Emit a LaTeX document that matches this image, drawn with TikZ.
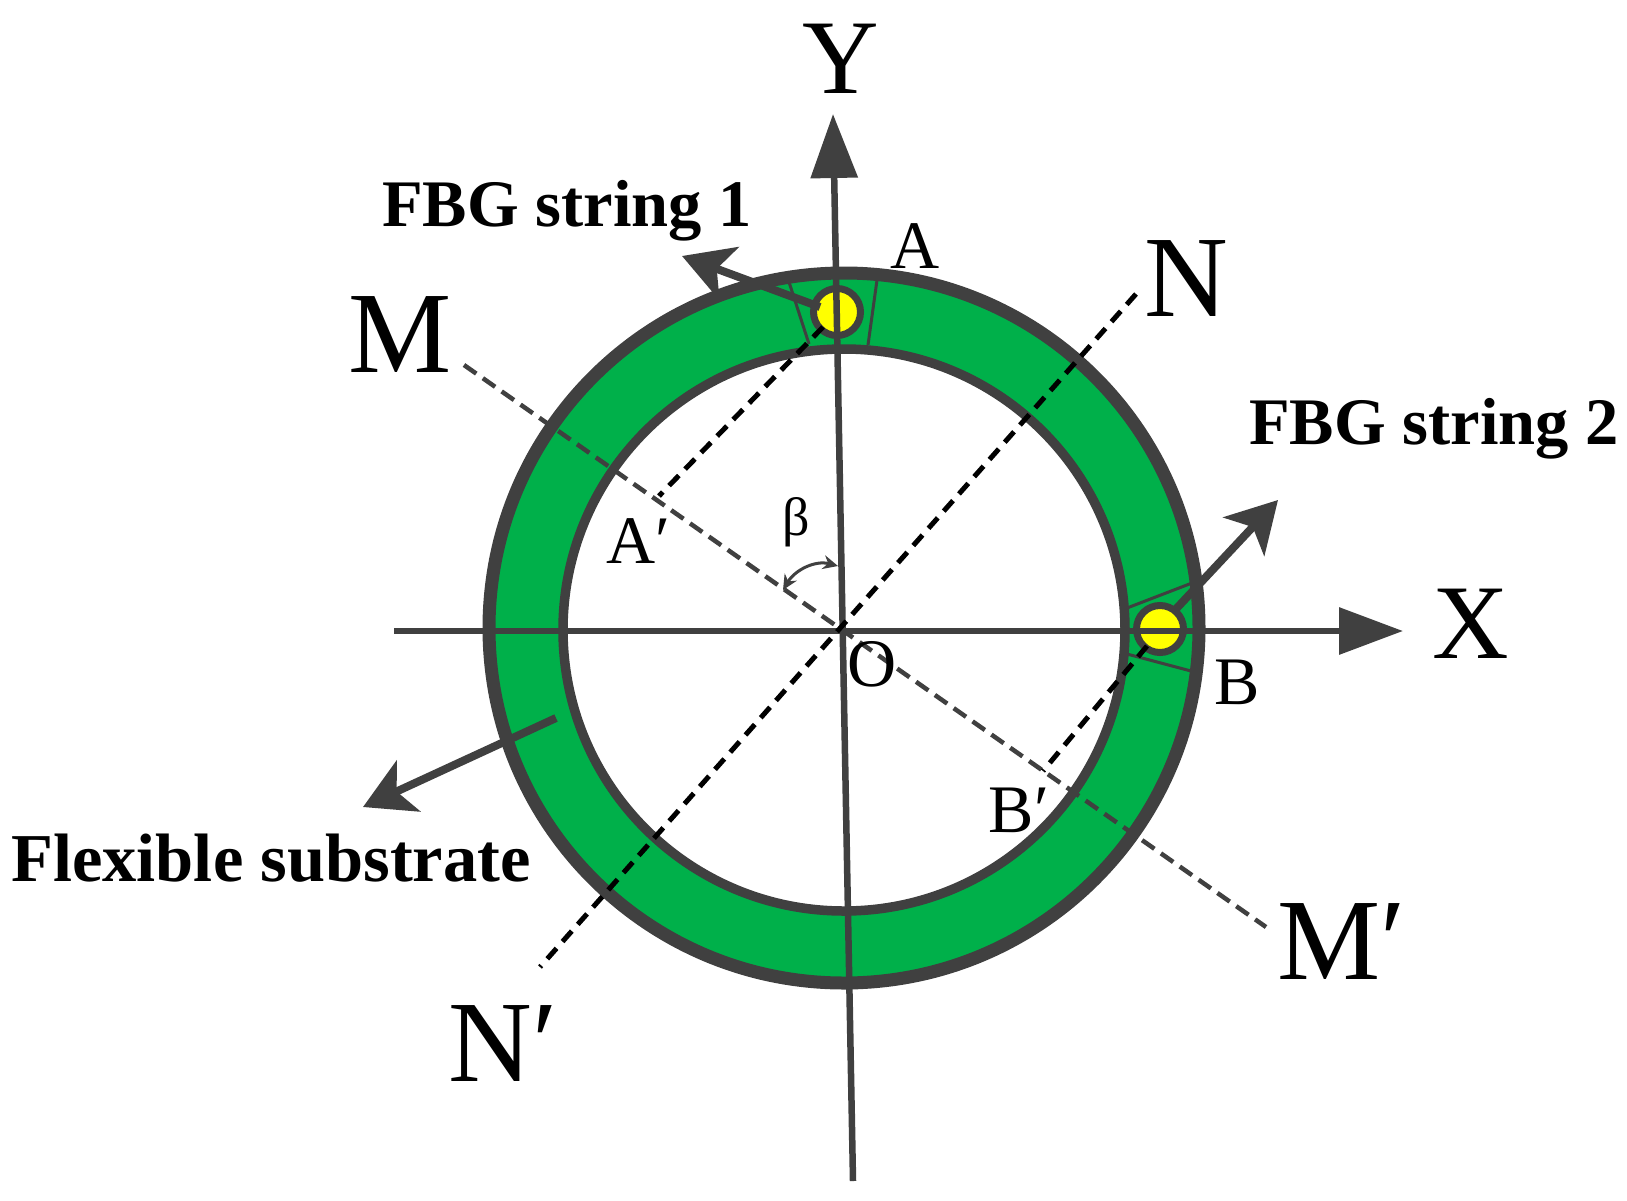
\documentclass[tikz,border=0pt]{standalone}
\usepackage{fontspec}
\setmainfont{Liberation Serif}
\usetikzlibrary{arrows.meta}
\definecolor{ink}{HTML}{404040}
\definecolor{ringgreen}{HTML}{00B04A}
\definecolor{fbgyellow}{HTML}{FFFF00}
\tikzset{
  huge label/.style={anchor=base,inner sep=0pt,font=\fontsize{106}{110}\selectfont},
  wide label/.style={anchor=base,inner sep=0pt,font=\fontsize{116}{120}\selectfont},
  small label/.style={anchor=base,inner sep=0pt,font=\fontsize{68}{72}\selectfont},
  bold label/.style={anchor=base,inner sep=0pt,font=\fontsize{66.5}{70}\selectfont\bfseries},
  axis line/.style={draw=ink,line width=6.5pt},
  axis tip/.style={-{Stealth[length=64pt,width=46pt,inset=0pt]}},
  pointer/.style={draw=ink,line width=8pt,-{Stealth[length=50pt,width=56pt,inset=13pt]}},
  gray dash/.style={draw=ink,line width=4.5pt,dash pattern=on 15pt off 8pt},
  black dash/.style={draw=black,line width=5pt,dash pattern=on 14pt off 9pt},
  sector/.style={draw=ink,line width=3pt},
  fbg/.style={circle,draw=ink,fill=fbgyellow,line width=7pt,minimum size=47pt,inner sep=0pt}
}
\begin{document}
\begin{tikzpicture}[x=1pt,y=-1pt]
\useasboundingbox (0,0) rectangle (1627,1200);
\coordinate (c) at (844,628);
\coordinate (ci) at (844,630);
% ring
\fill[ringgreen,even odd rule] (c) circle[radius=355pt] (ci) circle[radius=281pt];
% coordinates
\coordinate (s1a) at (789,282); \coordinate (s1b) at (809,344);
\coordinate (s2a) at (877,280); \coordinate (s2b) at (868,345);
\coordinate (s3a) at (1192,583); \coordinate (s3b) at (1127,608);
\coordinate (s4a) at (1127,654); \coordinate (s4b) at (1191,671);
\draw[sector] (s1a) -- (s1b);
\draw[sector] (s2a) -- (s2b);
\draw[sector] (s3a) -- (s3b);
\draw[sector] (s4a) -- (s4b);
\draw[ink,line width=13pt] (c) circle[radius=355pt];
\draw[ink,line width=9.5pt] (ci) circle[radius=281pt];
% FBG circles
\node[fbg] (f1) at (837,312) {};
\node[fbg] (f2) at (1160,629) {};
% axes
\coordinate (xs) at (394,631); \coordinate (xe) at (1403,631);
\coordinate (ys) at (853,1181); \coordinate (ye) at (833,114);
\draw[axis line,axis tip,ink] (xs) -- (xe);
\draw[axis line,axis tip,ink] (ys) -- (ye);
% dashed lines
\coordinate (m) at (464,365); \coordinate (mp) at (1266,927);
\coordinate (n) at (1136,294); \coordinate (np) at (540,967);
\coordinate (a) at (823,327); \coordinate (ap) at (659,496);
\coordinate (b) at (1147,646); \coordinate (bp) at (1043,771);
\draw[gray dash] (m) -- (mp);
\draw[black dash] (n) -- (np);
\draw[black dash] (a) -- (ap);
\draw[black dash] (b) -- (bp);
% pointers
\coordinate (p1s) at (820,307); \coordinate (p1e) at (682,256);
\coordinate (p2s) at (1175,610); \coordinate (p2e) at (1278,500);
\coordinate (p3s) at (556,718); \coordinate (p3e) at (363,807);
\draw[pointer] (p1s) -- (p1e);
\draw[pointer] (p2s) -- (p2e);
\draw[pointer] (p3s) -- (p3e);
% beta arc
\coordinate (b1) at (838,566); \coordinate (b2) at (783,590);
\draw[ink,line width=3pt,{Stealth[length=15pt,width=14pt]}-{Stealth[length=15pt,width=14pt]}] (b1) .. controls (815,560) and (795,570) .. (b2);
% labels
\node[huge label] (ly) at (841,93) {Y};
\node[huge label] (lx) at (1471,658) {X};
\node[wide label] (lm) at (400,372) {M};
\node[wide label] (ln) at (1186,316) {N};
\node[wide label] (lmp) at (1342,979) {M′};
\node[wide label] (lnp) at (503,1081) {N′};
\node[small label] (la) at (915,268) {A};
\node[small label] (lap) at (638,563) {A′};
\node[small label] (lb) at (1237,704) {B};
\node[small label] (lbp) at (1019,832) {B′};
\node[small label] (lo) at (872,686) {O};
\node[small label,font=\fontsize{54}{58}\selectfont] (lbeta) at (796,535) {β};
\node[bold label] (t1) at (567,226) {FBG string 1};
\node[bold label] (t2) at (1434,444) {FBG string 2};
\node[bold label,font=\fontsize{68.5}{72}\selectfont\bfseries] (t3) at (271,881) {Flexible substrate};
\end{tikzpicture}
\end{document}
